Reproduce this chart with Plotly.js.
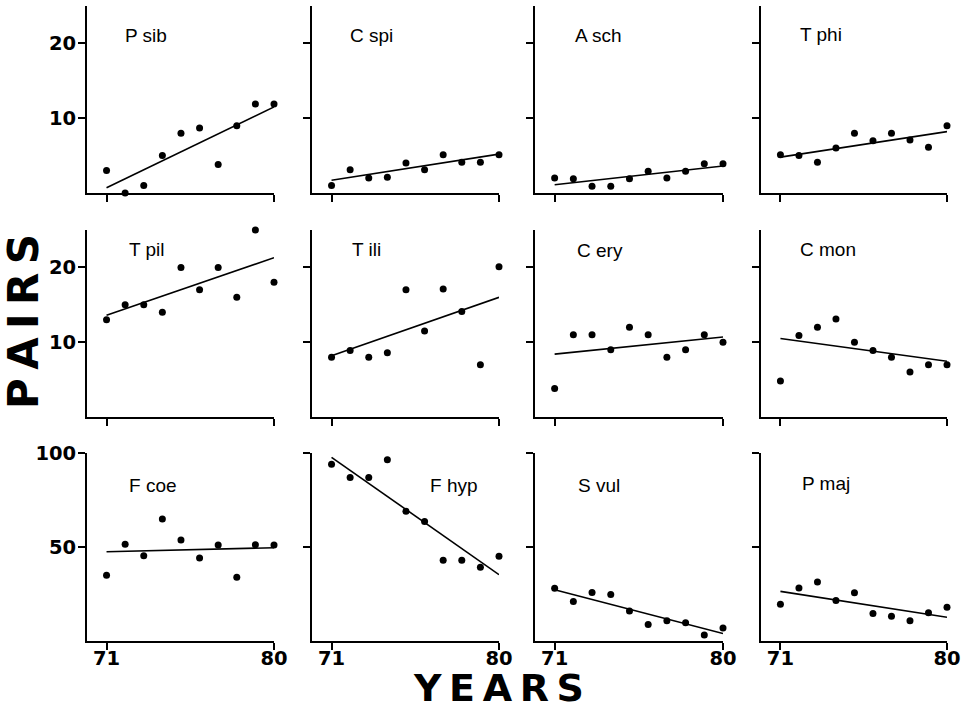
<!DOCTYPE html>
<html><head><meta charset="utf-8">
<script src="https://cdn.plot.ly/plotly-3.0.1.min.js"></script>
<style>html,body{margin:0;padding:0;background:#fff}#chart{width:970px;height:707px}</style>
</head><body><div id="chart"></div>
<script>
const years = [71,72,73,74,75,76,77,78,79,80];
const species = ["P sib","C spi","A sch","T phi","T pil","T ili","C ery","C mon","F coe","F hyp","S vul","P maj"];
const psib = [3,0,1,5,8,8.7,3.8,9,11.9,11.9];
const cspi = [1,3.1,2,2.1,4,3.1,5.1,4.1,4.1,5.1];
const asch = [2,1.9,0.9,0.9,1.9,2.9,2,2.9,3.9,3.9];
const tphi = [5.1,5,4.1,6,8,7,8,7.1,6.1,9];
const tpil = [13,15,15,14,20,17,20,16,25,18];
const tili = [8,8.9,8,8.6,17,11.5,17.1,14.1,7,20.1];
const cery = [3.8,11,11,9,12,11,8,9,11,10];
const cmon = [4.8,10.9,12,13.1,10,8.9,8,6,7,7];
const fcoe = [35,51.4,45.4,64.9,53.7,44.1,51,33.9,51.2,51];
const fhyp = [94,87,87,96.4,69,63.5,43,43,39.2,45.1];
const svul = [28,21,25.8,24.7,15.9,8.8,10.8,9.7,3.2,6.9];
const pmaj = [19.5,28.2,31.4,21.5,25.6,14.6,13.2,10.8,15,17.9];
const trendYears = [71,80];
const trendStart = [0.7,1.7,1.1,4.8,13.6,8.2,8.4,10.5,47.5,97.7,27.3,26.4];
const trendEnd = [11.5,5.2,3.6,8.2,21.3,16.0,10.7,7.45,49.6,35.3,4.0,12.6];
const yTicksSmall = [10,20];
const yTicksLarge = [50,100];
const xTicks = [71,80];

const series = [psib,cspi,asch,tphi,tpil,tili,cery,cmon,fcoe,fhyp,svul,pmaj];

const W = 970, H = 707;
const colPx = [[87,274],[312,499],[535,723],[761,947]];
const rowPx = [[6,193],[230,417],[453,641]];
const labelPos = [[123,36],[348,35],[573,35],[798,34],[127,249],[350,249],[575,250],[798,249],[127,485],[428,485],[576,485],[800,483]];

const traces = [];
const layout = {
  width: W, height: H,
  margin: {l:0,r:0,t:0,b:0},
  paper_bgcolor: '#fff', plot_bgcolor: '#fff',
  showlegend: false,
  annotations: []
};
const tickFont = {family: 'DejaVu Sans, sans-serif', size: 19.5, color: '#000', weight: 'bold'};

for (let i = 0; i < 12; i++) {
  const r = Math.floor(i/4), c = i % 4;
  const n = i + 1;
  const xa = 'x' + (n===1?'':n), ya = 'y' + (n===1?'':n);
  traces.push({
    x: years, y: series[i], xaxis: xa, yaxis: ya, type: 'scatter', mode: 'markers',
    marker: {color: '#000', size: 7}, cliponaxis: false, hoverinfo: 'none'
  });
  traces.push({
    x: trendYears, y: [trendStart[i], trendEnd[i]], xaxis: xa, yaxis: ya, type: 'scatter', mode: 'lines',
    line: {color: '#000', width: 1.6}, cliponaxis: false, hoverinfo: 'none'
  });
  layout['xaxis' + (n===1?'':n)] = {
    domain: [colPx[c][0]/W, colPx[c][1]/W],
    range: [69.95, 80],
    anchor: ya,
    showgrid: false, zeroline: false,
    showline: true, linecolor: '#000', linewidth: 2,
    ticks: 'outside', ticklen: 7, tickwidth: 2, tickcolor: '#000',
    tickvals: xTicks, ticktext: xTicks.map(String),
    showticklabels: r === 2,
    ticklabelstandoff: -8,
    tickfont: tickFont,
    fixedrange: true
  };
  const big = r === 2;
  layout['yaxis' + (n===1?'':n)] = {
    domain: [1 - rowPx[r][1]/H, 1 - rowPx[r][0]/H],
    range: big ? [0,100] : [0,25],
    anchor: xa,
    showgrid: false, zeroline: false,
    showline: true, linecolor: '#000', linewidth: 2,
    ticks: 'outside', ticklen: 7, tickwidth: 2, tickcolor: '#000',
    tickvals: big ? yTicksLarge : yTicksSmall,
    ticktext: (big ? yTicksLarge : yTicksSmall).map(String),
    showticklabels: c === 0,
    ticklabelstandoff: -2,
    tickfont: tickFont,
    fixedrange: true
  };
  layout.annotations.push({
    xref: 'paper', yref: 'paper', x: labelPos[i][0]/W, y: 1 - labelPos[i][1]/H,
    xanchor: 'left', yanchor: 'middle', showarrow: false, text: species[i],
    font: {family: 'Liberation Sans, Arial, sans-serif', size: 19, color: '#000'}
  });
}
layout.annotations.push({
  xref: 'paper', yref: 'paper', x: 23/W, y: 1 - 322/H, xanchor: 'center', yanchor: 'middle',
  showarrow: false, text: 'P\u2009A\u2009I\u2009R\u2009S', textangle: -90,
  font: {family: 'DejaVu Sans, sans-serif', size: 42, color: '#000', weight: 'bold'}
});
layout.annotations.push({
  xref: 'paper', yref: 'paper', x: 499/W, y: 1 - 688/H, xanchor: 'center', yanchor: 'middle',
  showarrow: false, text: 'Y\u2009E\u2009A\u2009R\u2009S',
  font: {family: 'DejaVu Sans, sans-serif', size: 38, color: '#000', weight: 'bold'}
});

Plotly.newPlot('chart', traces, layout, {staticPlot: true, displayModeBar: false});
</script>
</body></html>
